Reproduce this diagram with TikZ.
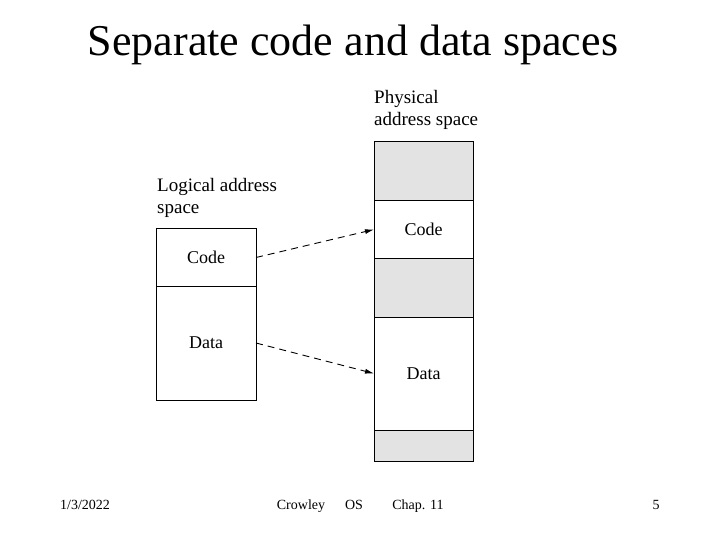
\documentclass[tikz,border=0pt]{standalone}
\usepackage{fontspec}
\setmainfont{Liberation Serif}
\usetikzlibrary{arrows.meta}

\begin{document}
\begin{tikzpicture}[x=1pt,y=-1pt,>={Latex[length=9pt,width=5pt]},
  seg/.style={draw,line width=1pt,inner sep=0pt,outer sep=0pt,minimum width=99pt,font=\fontsize{18}{21}\selectfont},
  free/.style={seg,fill=gray!22},
  caption/.style={align=left,anchor=north west,inner sep=0pt,font=\fontsize{19}{22}\selectfont},
  foot/.style={anchor=base,font=\fontsize{14}{16}\selectfont}]
  \useasboundingbox (0,0) rectangle (720,540);
  % title
  \node[font=\fontsize{44}{50}\selectfont] (title) at (353,45) {Separate code and data spaces};
  % logical address space
  \node[caption] (lcap) at (157,178) {Logical address\\space};
  \node[seg,minimum width=100pt,minimum height=57pt] (lcode) at (206,257.5) {Code};
  \node[seg,minimum width=100pt,minimum height=114pt] (ldata) at (206,343) {Data};
  % physical address space
  \node[caption] (pcap) at (374,90) {Physical\\address space};
  \node[free,minimum height=59pt] (pfree1) at (423.5,171.5) {};
  \node[seg,minimum height=57pt] (pcode) at (423.5,229.5) {Code};
  \node[free,minimum height=59pt] (pfree2) at (423.5,287.5) {};
  \node[seg,minimum height=113pt] (pdata) at (423.5,373.5) {Data};
  \node[free,minimum height=31pt] (pfree3) at (423.5,445.5) {};
  % mappings
  \draw[->,dash pattern=on 7pt off 5pt,line width=0.9pt] (lcode.east) -- (pcode.west);
  \draw[->,dash pattern=on 7pt off 5pt,line width=0.9pt] (ldata.east) -- (pdata.west);
  % footer
  \node[foot] (date) at (85,509) {1/3/2022};
  \node[foot] (author) at (301,509) {Crowley};
  \node[foot] (course) at (354,509) {OS};
  \node[foot] (chap) at (418,509) {Chap. 11};
  \node[foot] (page) at (656,509) {5};
\end{tikzpicture}
\end{document}
